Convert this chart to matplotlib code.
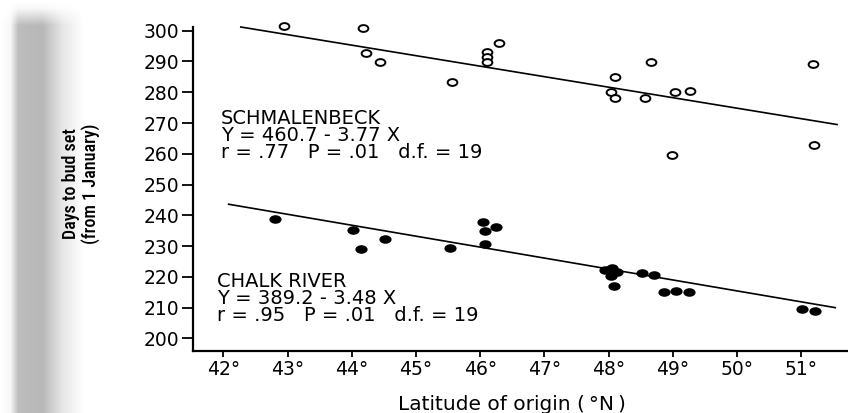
import numpy as np
import matplotlib
matplotlib.use('Agg')
import matplotlib.pyplot as plt
from matplotlib.path import Path
from matplotlib.ticker import MultipleLocator

# Schmalenbeck (open circles): latitude of origin vs days to bud set
schm_lat = [42.95, 44.17, 44.22, 44.44, 45.56, 46.10, 46.10, 46.10, 46.29,
            48.10, 48.04, 48.10, 48.57, 48.66, 48.99, 49.04, 49.27, 51.18, 51.20]
schm_days = [301.6, 300.8, 292.6, 289.9, 283.4, 293.2, 291.5, 289.9, 295.9,
             284.8, 280.2, 278.0, 278.0, 289.8, 259.6, 280.2, 280.4, 289.2, 262.7]

# Chalk River (filled circles)
chalk_lat = [42.80, 44.02, 44.15, 44.52, 45.53, 46.04, 46.08, 46.25, 46.08,
             47.95, 48.05, 48.13, 48.03, 48.09, 48.52, 48.71, 48.86, 49.05, 49.26,
             51.01, 51.22]
chalk_days = [238.8, 235.2, 228.9, 232.3, 229.3, 237.9, 235.0, 236.1, 230.7,
              222.2, 222.8, 221.7, 220.3, 217.0, 221.4, 220.7, 215.2, 215.5, 215.2,
              209.4, 209.0]

# regression lines, end points as drawn in the figure
schm_fit_lat = [42.27, 51.56]
schm_fit_days = [301.2, 269.5]
chalk_fit_lat = [42.08, 51.53]
chalk_fit_days = [243.6, 210.0]

x_ticks = list(range(42, 52))
y_ticks = list(range(200, 301, 10))

schm_text = ["SCHMALENBECK", "Y = 460.7 - 3.77 X", "r = .77   P = .01   d.f. = 19"]
chalk_text = ["CHALK RIVER", "Y = 389.2 - 3.48 X", "r = .95   P = .01   d.f. = 19"]

fig = plt.figure(figsize=(8.48, 4.13), dpi=100)

# grey scanner shadow along the left edge
bg = fig.add_axes([0, 0, 0.1, 1])
cols = np.interp(np.arange(85), [0, 10, 18, 42, 62, 84], [1.0, 0.97, 0.74, 0.72, 0.9, 1.0])
rows = np.interp(np.arange(413), [0, 8, 25, 413], [1.0, 0.9, 0.0, 0.0])
shade = 1 - (1 - cols[None, :]) * (1 - rows[:, None])
bg.imshow(shade, cmap='gray', vmin=0, vmax=1, aspect='auto', interpolation='bilinear')
bg.axis('off')

ax = fig.add_axes([193.3 / 848, 1 - 350.7 / 413, (848 - 193.3) / 848, (350.7 - 26.7) / 413])
ax.patch.set_alpha(0)

# elliptical marker (the scan is stretched sideways)
circ = Path.unit_circle()
ell = Path(circ.vertices * [1, 0.7], circ.codes)

ax.plot(schm_fit_lat, schm_fit_days, color='black', lw=1.2, clip_on=False)
ax.plot(chalk_fit_lat, chalk_fit_days, color='black', lw=1.2, clip_on=False)

ax.plot(schm_lat, schm_days, linestyle='none', marker=ell, markersize=7.0,
        markerfacecolor='white', markeredgecolor='black', markeredgewidth=1.4, clip_on=False)
ax.plot(chalk_lat, chalk_days, linestyle='none', marker=ell, markersize=8.8,
        markerfacecolor='black', markeredgecolor='black', markeredgewidth=0, clip_on=False)

ax.set_xlim(41.53, 51.73)
ax.set_ylim(196.0, 301.3)
ax.set_xticks(x_ticks)
ax.set_xticklabels(["{}°".format(v) for v in x_ticks])
ax.set_yticks(y_ticks)
ax.yaxis.set_minor_locator(MultipleLocator(1000))

for s in ['top', 'right']:
    ax.spines[s].set_visible(False)
for s in ['left', 'bottom']:
    ax.spines[s].set_linewidth(1.6)

ax.tick_params(axis='y', direction='out', length=8, width=1.3, pad=2, labelsize=13.5)
ax.tick_params(axis='x', direction='out', length=4, width=1.3, pad=3, labelsize=13.5)

# annotation blocks, one text each
ax.text(41.96, 274.6, "\n".join(schm_text), fontsize=14, ha='left', va='top', linespacing=0.88)
ax.text(41.90, 221.7, "\n".join(chalk_text), fontsize=14, ha='left', va='top', linespacing=0.88)

fig.text(512 / 848, 1 - 405 / 413, "Latitude of origin (\u2009°N\u2009)", fontsize=14.5,
         ha='center', va='center')
fig.text(81 / 848, 1 - 184 / 413, "Days to bud set\n(from 1 January)", rotation=90,
         fontsize=13, family=['Liberation Sans Narrow', 'Roboto Condensed', 'Roboto', 'DejaVu Sans'],
         weight='medium', ha='center', va='center', linespacing=1.1)

plt.savefig('out.png', dpi=100)
plt.close()
